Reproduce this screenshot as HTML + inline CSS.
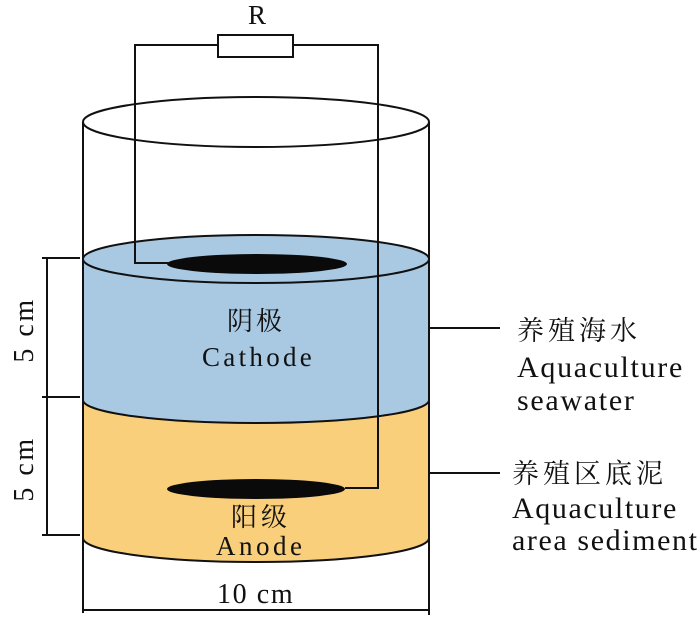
<!DOCTYPE html>
<html>
<head>
<meta charset="utf-8">
<style>
html,body{margin:0;padding:0;background:#fff;}
svg{display:block;}
</style>
</head>
<body>
<svg width="700" height="629" viewBox="0 0 700 629" xmlns="http://www.w3.org/2000/svg">
  <!-- blue body -->
  <path d="M83,259 L83,400 A173,23 0 0 0 429,400 L429,259 Z" fill="#a9c9e3"/>
  <!-- orange body -->
  <path d="M83,400 A173,23 0 0 0 429,400 L429,538 A173,24 0 0 1 83,538 Z" fill="#f9cf7b"/>
  <!-- boundary arcs -->
  <path d="M83,400 A173,23 0 0 0 429,400" fill="none" stroke="#111" stroke-width="2"/>
  <path d="M83,538 A173,24 0 0 0 429,538" fill="none" stroke="#111" stroke-width="2"/>
  <!-- blue top surface -->
  <ellipse cx="256" cy="259" rx="173" ry="24" fill="#a9c9e3" stroke="#111" stroke-width="2"/>
  <!-- top rim -->
  <ellipse cx="256" cy="122" rx="173" ry="25" fill="none" stroke="#111" stroke-width="2"/>
  <!-- walls -->
  <line x1="83" y1="122" x2="83" y2="613" stroke="#111" stroke-width="2"/>
  <line x1="429" y1="122" x2="429" y2="615" stroke="#111" stroke-width="2"/>
  <!-- electrodes -->
  <ellipse cx="257" cy="264" rx="90" ry="10" fill="#0a0a0a"/>
  <ellipse cx="256" cy="489" rx="89" ry="10" fill="#0a0a0a"/>
  <!-- wires -->
  <path d="M170,263 L135,263 L135,45 L378,45 L378,488 L345,488" fill="none" stroke="#111" stroke-width="2"/>
  <rect x="218" y="35" width="75" height="22" fill="#fff" stroke="#111" stroke-width="2"/>

  <!-- left dimension -->
  <line x1="47" y1="258" x2="47" y2="535" stroke="#111" stroke-width="2"/>
  <line x1="42" y1="258" x2="80" y2="258" stroke="#111" stroke-width="2"/>
  <line x1="42" y1="397" x2="80" y2="397" stroke="#111" stroke-width="2"/>
  <line x1="42" y1="535" x2="80" y2="535" stroke="#111" stroke-width="2"/>

  <!-- bottom dimension -->
  <line x1="83" y1="610" x2="430" y2="610" stroke="#111" stroke-width="2"/>

  <!-- right label leaders -->
  <line x1="429" y1="328" x2="500" y2="328" stroke="#111" stroke-width="2"/>
  <line x1="429" y1="473" x2="500" y2="473" stroke="#111" stroke-width="2"/>

  <g font-family="'Liberation Serif', 'Times New Roman', 'DejaVu Serif', serif" fill="#111">
    <text x="248" y="24" font-size="27">R</text>
    <text transform="translate(33,330) rotate(-90)" font-size="28" text-anchor="middle" letter-spacing="2.5">5 cm</text>
    <text transform="translate(33,469) rotate(-90)" font-size="28" text-anchor="middle" letter-spacing="2.5">5 cm</text>
    <text x="217" y="603" font-size="28" letter-spacing="1.6">10 cm</text>
    <text x="202" y="366" font-size="27" letter-spacing="3.3">Cathode</text>
    <text x="216" y="555" font-size="27" letter-spacing="3.5">Anode</text>
    <text x="517" y="377" font-size="30" letter-spacing="1.7">Aquaculture</text>
    <text x="517" y="410" font-size="30" letter-spacing="1.7">seawater</text>
    <text x="512" y="518" font-size="30" letter-spacing="1.6">Aquaculture</text>
    <text x="512" y="550" font-size="30" letter-spacing="1.6">area sediment</text>
  </g>
  <g font-family="'Noto Serif CJK SC', 'Noto Sans CJK SC', serif" fill="#111">
    <text x="227" y="330" font-size="26" letter-spacing="3">阴极</text>
    <text x="231" y="526" font-size="26" letter-spacing="4">阳级</text>
    <text x="517" y="340" font-size="27" letter-spacing="4">养殖海水</text>
    <text x="512" y="483" font-size="27" letter-spacing="4">养殖区底泥</text>
  </g>
</svg>
</body>
</html>
